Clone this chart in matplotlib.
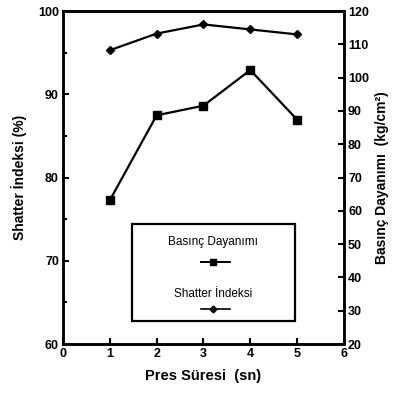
import matplotlib
matplotlib.use("Agg")
import matplotlib.pyplot as plt
from matplotlib.lines import Line2D
from matplotlib.patches import Rectangle
from matplotlib.ticker import MultipleLocator

plt.rcParams['font.family'] = ['Liberation Sans Narrow', 'Liberation Sans', 'DejaVu Sans']
plt.rcParams['font.weight'] = 'bold'

pres_suresi = [1, 2, 3, 4, 5]
shatter_indeksi = [95.3, 97.3, 98.4, 97.8, 97.2]
basinc_dayanimi = [63.2, 88.7, 91.6, 102.3, 87.4]

x_ticks = [0, 1, 2, 3, 4, 5, 6]
left_ticks = [60, 70, 80, 90, 100]
right_ticks = [20, 30, 40, 50, 60, 70, 80, 90, 100, 110, 120]

fig = plt.figure(figsize=(3.99, 3.97), dpi=100)
ax = fig.add_axes([0.158, 0.1335, 0.704, 0.8385])
ax2 = ax.twinx()

ax.plot(pres_suresi, shatter_indeksi, color='black', lw=1.6, marker='D', ms=4.5, zorder=3)
ax2.plot(pres_suresi, basinc_dayanimi, color='black', lw=1.6, marker='s', ms=6, zorder=3)

ax.set_xlim(0, 6)
ax.set_ylim(60, 100)
ax2.set_ylim(20, 120)
ax.set_xticks(x_ticks)
ax.set_yticks(left_ticks)
ax.yaxis.set_minor_locator(MultipleLocator(5))
ax2.set_yticks(right_ticks)

for a in (ax, ax2):
    for s in a.spines.values():
        s.set_linewidth(1.8)
ax.tick_params(direction='in', length=4, width=1.5, labelsize=9, pad=3)
ax.tick_params(which='minor', direction='in', length=3, width=1.5)
ax2.tick_params(direction='in', length=4, width=1.5, labelsize=9, pad=3)

ax.set_xlabel('Pres Süresi  (sn)', fontsize=10.5, fontweight='bold', labelpad=6)
ax.set_ylabel('Shatter İndeksi (%)', fontsize=10, fontweight='bold', labelpad=8)
ax2.set_ylabel('Basınç Dayanımı  (kg/cm²)', fontsize=10, fontweight='bold', labelpad=4)

# legend box
ax.add_patch(Rectangle((0.245, 0.07), 0.58, 0.29, transform=ax.transAxes,
                       fill=True, facecolor='white', edgecolor='black', lw=1.6, zorder=4))
ax.text(0.535, 0.305, 'Basınç Dayanımı', transform=ax.transAxes, ha='center', va='center',
        fontsize=8.5, fontweight='normal', zorder=5)
ax.add_line(Line2D([0.49, 0.595], [0.245, 0.245], transform=ax.transAxes, color='black',
                   lw=1.4, zorder=5))
ax.plot([0.535], [0.245], transform=ax.transAxes, marker='s', ms=5, color='black', zorder=6)
ax.text(0.535, 0.15, 'Shatter İndeksi', transform=ax.transAxes, ha='center', va='center',
        fontsize=8.5, fontweight='normal', zorder=5)
ax.add_line(Line2D([0.49, 0.595], [0.105, 0.105], transform=ax.transAxes, color='black',
                   lw=1.2, zorder=5))
ax.plot([0.535], [0.105], transform=ax.transAxes, marker='D', ms=3.5, color='black', zorder=6)

fig.savefig('out.png', dpi=100)
